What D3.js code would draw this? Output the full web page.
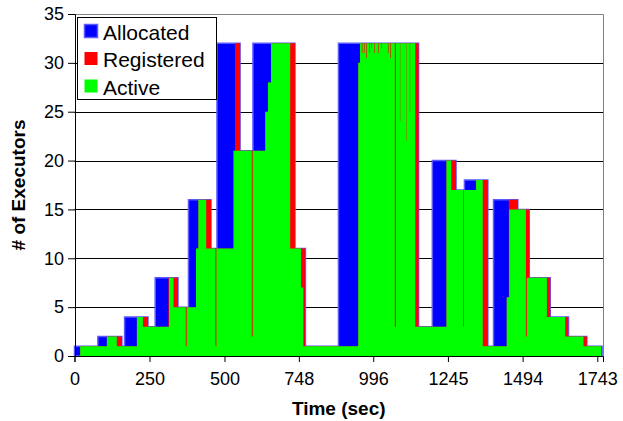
<!DOCTYPE html>
<html><head><meta charset="utf-8">
<script src="https://cdn.jsdelivr.net/npm/d3@7"></script>
<style>body{margin:0;background:#fff}svg{display:block}text{font-family:"Liberation Sans",Arial,sans-serif}</style>
</head><body><svg width="623" height="421"></svg>
<script>
const seriesNames = ["Allocated", "Registered", "Active"];
const seriesColors = ["#0000ff", "#ff0000", "#00ff00"];
// [time (sec), executors] change points, step-after
const allocated = [[0,1],[78,2],[158,1],[167,4],[245,3],[269,8],[345,5],[380,16],[455,11],[475,32],[552,21],[595,32],[735,11],[770,1],[880,32],[1147,3],[1193,20],[1272,17],[1300,18],[1378,1],[1397,16],[1478,15],[1516,8],[1586,4],[1647,2],[1708,1],[1759,0]];
const registered = [[0,0],[19,1],[108,2],[158,1],[208,4],[245,3],[313,8],[345,5],[405,11],[413,16],[455,11],[535,32],[552,21],[636,25],[645,28],[655,32],[735,11],[768,1],[946,30],[952,32],[1147,3],[1240,20],[1272,17],[1338,18],[1378,1],[1441,6],[1448,16],[1478,15],[1516,8],[1586,4],[1646,2],[1708,1],[1757,0]];
const active = [[0,0],[19,1],[108,2],[141,1],[208,4],[228,3],[315,8],[330,5],[371,1],[374,5],[405,11],[413,16],[439,11],[470,1],[473,11],[530,21],[591,2],[594,21],[636,25],[645,28],[655,32],[719,11],[755,7],[763,1],[946,30],[952,32],[958,31],[960,32],[965,31],[967,32],[973,30.5],[975,32],[982,31],[984,32],[990,31.5],[992,32],[1000,31],[1002,32],[1012,31],[1014,32],[1022,31.5],[1024,32],[1045,31],[1047,32],[1053,30.5],[1055,32],[1068,3],[1071,32],[1085,24],[1086,32],[1107,22],[1108,32],[1118,25],[1119,32],[1136,3],[1240,20],[1256,17],[1296,3],[1298,17],[1339,18],[1361,1],[1441,6],[1449,15],[1505,2],[1508,8],[1575,4],[1636,2],[1697,1],[1756,0]];
const xTickValues = [0, 250, 500, 748, 996, 1245, 1494, 1743];
const yTickValues = [0, 5, 10, 15, 20, 25, 30, 35];
const xDomainMax = 1762;
const yDomainMax = 35;

const svg = d3.select("svg");
const L = 74.5, R = 603, T = 14, B = 356;
const x = d3.scaleLinear().domain([0, xDomainMax]).range([L, R]);
const y = d3.scaleLinear().domain([0, yDomainMax]).range([B, T]);
const snap = v => Math.round(v) + 0.5;

// gridlines
svg.append("g").selectAll("line").data(yTickValues.filter(v => v > 0 && v < yDomainMax)).join("line")
  .attr("x1", L).attr("x2", R).attr("y1", d => snap(y(d))).attr("y2", d => snap(y(d)))
  .attr("stroke", "#000").attr("stroke-width", 1);

const area = d3.area().curve(d3.curveStepAfter)
  .x(d => x(d[0])).y0(y(0)).y1(d => y(d[1]));

svg.append("path").datum(allocated).attr("d", area)
  .attr("fill", seriesColors[0]).attr("stroke", "#5a5aff").attr("stroke-width", 1.5).attr("stroke-linejoin", "miter");
svg.append("path").datum(registered).attr("d", area).attr("fill", seriesColors[1]);
svg.append("path").datum(active).attr("d", area).attr("fill", seriesColors[2]);

// plot border (top/right)
svg.append("path").attr("d", `M${snap(L)},${snap(T)}H${snap(R)}V${snap(B)}`)
  .attr("fill", "none").attr("stroke", "#808080").attr("stroke-width", 1);

// axes
const yAxis = d3.axisLeft(y).tickValues(yTickValues).tickSize(7).tickPadding(4).tickFormat(d3.format("d"));
const gy = svg.append("g").attr("transform", `translate(${snap(L) - 0.5},0)`).call(yAxis);
const xAxis = d3.axisBottom(x).tickValues(xTickValues).tickSize(6).tickPadding(10).tickFormat(d3.format("d"));
const gx = svg.append("g").attr("transform", `translate(0,${snap(B) - 0.5})`).call(xAxis);
[gx, gy].forEach(g => {
  g.select(".domain").attr("stroke", "#000");
  g.selectAll(".tick line").attr("stroke", "#000");
  g.selectAll(".tick text").attr("font-size", 18).attr("fill", "#000")
    .attr("font-family", '"Liberation Sans", Arial, sans-serif');
});

// axis titles
svg.append("text").attr("x", (L + R) / 2).attr("y", 415).attr("text-anchor", "middle")
  .attr("font-size", 19).attr("font-weight", "bold").text("Time (sec)");
svg.append("text").attr("transform", `translate(25,${(T + B) / 2}) rotate(-90)`).attr("text-anchor", "middle")
  .attr("font-size", 19).attr("font-weight", "bold").text("# of Executors");

// legend
const lg = svg.append("g");
lg.append("rect").attr("x", 77.5).attr("y", 17.5).attr("width", 139).attr("height", 82)
  .attr("fill", "#fff").attr("stroke", "#000").attr("stroke-width", 1);
seriesNames.forEach((name, i) => {
  const yy = 39.5 + i * 27.5;
  lg.append("rect").attr("x", 84.5).attr("y", yy - 15).attr("width", 13).attr("height", 13)
    .attr("fill", seriesColors[i]).attr("stroke", i === 0 ? "#5a5aff" : "none").attr("stroke-width", 1.5);
  lg.append("text").attr("x", 103).attr("y", yy).attr("font-size", 21).attr("fill", "#000").text(name);
});
</script></body></html>
